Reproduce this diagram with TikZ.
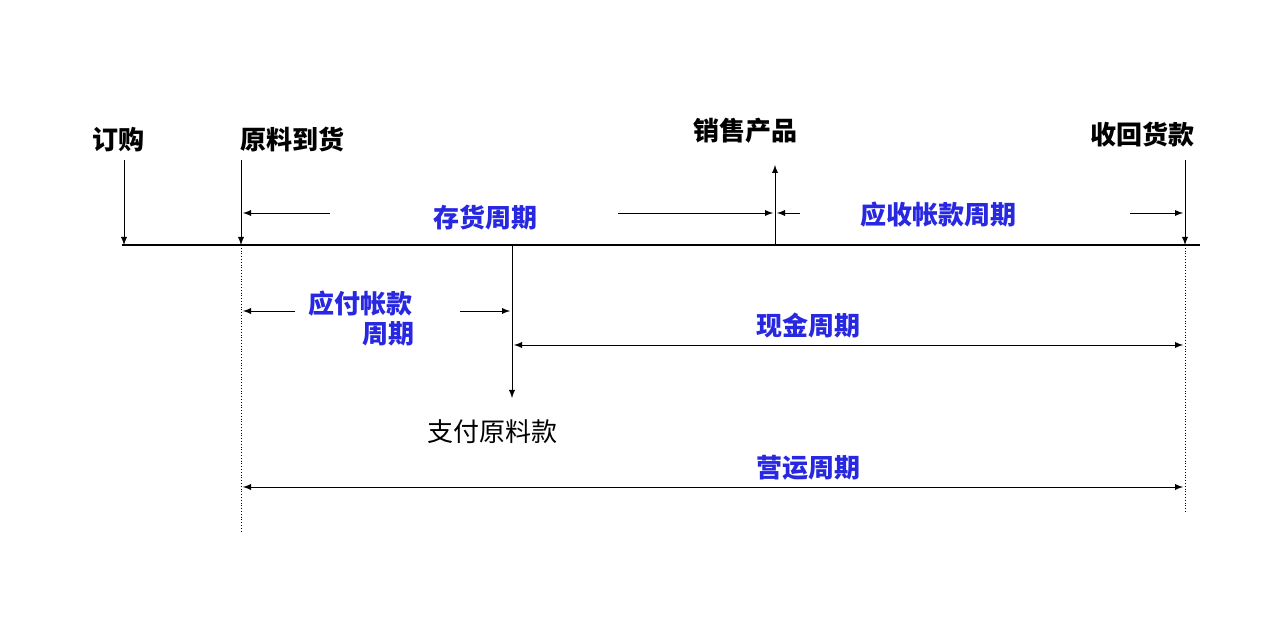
\documentclass[tikz,border=0pt]{standalone}
\usepackage{fontspec}
\setmainfont{Noto Sans CJK SC}
\usetikzlibrary{positioning}
\definecolor{periodblue}{RGB}{40,40,225}

\begin{document}
\begin{tikzpicture}[
      x=0.5pt, y=-0.5pt,
      font=\fontsize{13}{15}\selectfont,
      event/.style={font=\fontsize{13}{15}\selectfont\bfseries},
      period/.style={text=periodblue, font=\fontsize{13}{15}\selectfont\bfseries, align=center},
      arrow/.style={-latex, thin},
      span/.style={latex-latex, thin},
      guide/.style={densely dotted, thin}
  ]
  \useasboundingbox (0,0) rectangle (1280,640);

  % Timeline ------------------------------------------------
  \coordinate (tstart) at (122,245);
  \coordinate (tend)   at (1200,245);
  \draw[line width=1.3pt] (tstart) -- (tend);

  % Events ------------------------------------------------
  \node[event] (order)   at (118,140) {订购};
  \node[event] (arrive)  at (292,140) {原料到货};
  \node[event] (sell)    at (745,131) {销售产品};
  \node[event] (collect) at (1142,135) {收回货款};
  \node (pay) at (492,432) {支付原料款};

  \coordinate (orderT)   at (124,245);
  \coordinate (arriveT)  at (241,245);
  \coordinate (sellT)    at (775,245);
  \coordinate (collectT) at (1185,245);
  \coordinate (payT)     at (512,245);

  \draw[arrow] (124,160) -- (orderT);
  \draw[arrow] (241,160) -- (arriveT);
  \draw[arrow] (sellT) -- (775,165);
  \draw[arrow] (1185,160) -- (collectT);
  \draw[arrow] (payT) -- (512,398);

  % Guides ------------------------------------------------
  \draw[guide] (arriveT) -- (241,532);
  \draw[guide] (collectT) -- (1185,512);

  % Periods ------------------------------------------------
  \node[period] (stock) at (485,218) {存货周期};
  \draw[arrow] (330,213) -- (243,213);
  \draw[arrow] (618,213) -- (773,213);

  \node[period] (recv) at (938,215) {应收帐款周期};
  \draw[arrow] (800,213) -- (777,213);
  \draw[arrow] (1130,213) -- (1183,213);

  \node[period] (payable) at (360,318) {应付帐款\\\hspace{2.2em}周期};
  \draw[arrow] (295,311) -- (243,311);
  \draw[arrow] (460,311) -- (510,311);

  \node[period] (cash) at (808,326) {现金周期};
  \draw[span] (514,345) -- (1183,345);

  \node[period] (oper) at (808,468) {营运周期};
  \draw[span] (243,487) -- (1183,487);
\end{tikzpicture}
\end{document}
